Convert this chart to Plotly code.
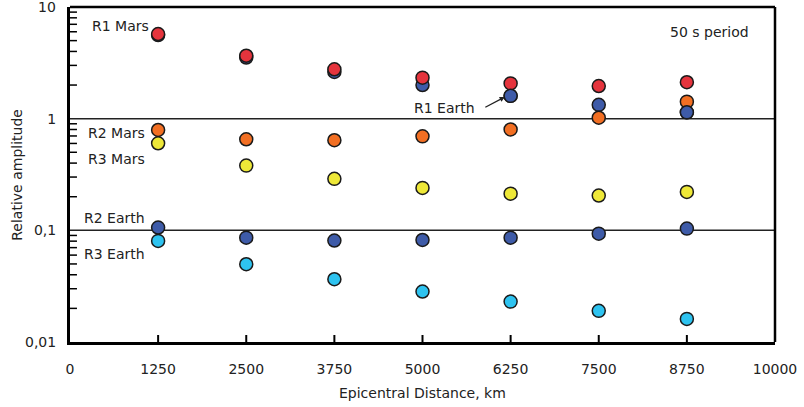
import plotly.graph_objects as go

# Epicentral distance (km)
distance = [1250, 2500, 3750, 5000, 6250, 7500, 8750]

# Relative amplitudes at 50 s period
r1_mars = [5.73, 3.66, 2.77, 2.33, 2.07, 1.96, 2.12]
r1_earth = [5.60, 3.53, 2.62, 2.00, 1.60, 1.33, 1.14]
r2_mars = [0.792, 0.654, 0.641, 0.695, 0.80, 1.02, 1.42]
r3_mars = [0.602, 0.380, 0.289, 0.240, 0.213, 0.205, 0.221]
r2_earth = [0.106, 0.086, 0.081, 0.082, 0.086, 0.0934, 0.1036]
r3_earth = [0.0804, 0.0497, 0.0365, 0.0283, 0.023, 0.019, 0.0161]

x_ticks = [0, 1250, 2500, 3750, 5000, 6250, 7500, 8750, 10000]
y_decades = [0.01, 0.1, 1, 10]
y_decade_text = ["0,01", "0,1", "1", "10"]
y_gridlines = [0.1, 1]

FONT = "DejaVu Sans"
TEXT = "#222"
RED, BLUE, ORANGE, YELLOW, CYAN = "#E5343D", "#3E5BA8", "#F26F23", "#EEE838", "#2EC3F0"

W, H = 804, 407
M = dict(l=70, r=26, t=7, b=65)
PW = W - M["l"] - M["r"]
PH = H - M["t"] - M["b"]
TICK_PX = 7

# minor log ticks at every digit of each decade
y_minor = [d * m for d in y_decades[:-1] for m in range(2, 10)]

# drawing order: later traces sit on top
series = [
    ("R1 Earth", distance, r1_earth, BLUE),
    ("R2 Mars", distance, r2_mars, ORANGE),
    ("R1 Mars", distance, r1_mars, RED),
    ("R1 Earth", [distance[i] for i in (4, 6)], [r1_earth[i] for i in (4, 6)], BLUE),
    ("R3 Mars", distance, r3_mars, YELLOW),
    ("R2 Earth", distance, r2_earth, BLUE),
    ("R3 Earth", distance, r3_earth, CYAN),
]

fig = go.Figure()
for name, xs, vals, color in series:
    fig.add_trace(go.Scatter(
        x=xs, y=vals, mode="markers", name=name,
        marker=dict(size=13, color=color, line=dict(color="#1a1a1a", width=1.5)),
        showlegend=False,
    ))

fig.update_layout(
    width=W, height=H,
    margin=M,
    paper_bgcolor="white", plot_bgcolor="white",
    font=dict(family=FONT, size=14, color=TEXT),
    xaxis=dict(
        range=[0, 10000], tickvals=x_ticks, ticktext=[str(v) for v in x_ticks],
        ticks="outside", ticklen=12, tickcolor="rgba(0,0,0,0)",
        showline=True, linewidth=3, linecolor="black",
        showgrid=False, zeroline=False,
        tickfont=dict(family=FONT, size=14),
    ),
    yaxis=dict(
        type="log", range=[-2, 1], tickvals=y_decades[:-1], ticktext=y_decade_text[:-1],
        ticks="outside", ticklen=8, tickcolor="rgba(0,0,0,0)",
        showline=True, linewidth=3, linecolor="black",
        showgrid=False, zeroline=False,
        tickfont=dict(family=FONT, size=14),
    ),
)

# top decade label sits on the upper edge of the plot
fig.add_annotation(text=y_decade_text[-1], xref="paper", yref="y", x=-12 / PW, y=1,
                   xanchor="right", yanchor="middle", showarrow=False,
                   font=dict(family=FONT, size=14, color=TEXT))

# horizontal reference lines at 0.1 and 1
for g in y_gridlines:
    fig.add_shape(type="line", xref="paper", yref="y", x0=0, x1=1, y0=g, y1=g,
                  line=dict(color=TEXT, width=1.5), layer="below")

# inward tick marks
for xv in x_ticks[1:-1]:
    fig.add_shape(type="line", xref="x", yref="paper", x0=xv, x1=xv,
                  y0=0, y1=TICK_PX / PH, line=dict(color="black", width=2))
for yv in y_minor:
    fig.add_shape(type="line", xref="paper", yref="y", x0=0, x1=TICK_PX / PW,
                  y0=yv, y1=yv, line=dict(color="black", width=1.5))

# thinner frame on top and right
fig.add_shape(type="line", xref="paper", yref="paper", x0=0, x1=1, y0=1, y1=1,
              line=dict(color="black", width=2.5))
fig.add_shape(type="line", xref="paper", yref="paper", x0=1, x1=1, y0=0, y1=1,
              line=dict(color="black", width=2.5))

labels = [
    ("R1 Mars", 0.1143, 0.943),
    ("R2 Mars", 0.1087, 0.625),
    ("R3 Mars", 0.1087, 0.545),
    ("R2 Earth", 0.1087, 0.369),
    ("R3 Earth", 0.1087, 0.263),
    ("R1 Earth", 0.5775, 0.700),
    ("50 s period", 0.9654, 0.926),
]
for text, px, py in labels:
    fig.add_annotation(text=text, xref="paper", yref="paper", x=px, y=py,
                       xanchor="right", yanchor="middle", showarrow=False,
                       font=dict(family=FONT, size=14, color=TEXT))

# arrow pointing at R1 Earth at 6250 km
fig.add_annotation(text="", x=6168, y=0.194, xref="x", yref="y",
                   showarrow=True, arrowhead=2, arrowsize=0.8, arrowwidth=1.3,
                   arrowcolor=TEXT, ax=-21, ay=11, standoff=0)

# axis titles
fig.add_annotation(text="Epicentral Distance, km", xref="paper", yref="paper",
                   x=0.5, y=(342 - 393) / PH, xanchor="center", yanchor="middle",
                   showarrow=False, font=dict(family=FONT, size=14, color=TEXT))
fig.add_annotation(text="Relative amplitude", xref="paper", yref="paper",
                   x=(16 - 70) / PW, y=0.5, xanchor="center", yanchor="middle",
                   textangle=-90, showarrow=False,
                   font=dict(family=FONT, size=14, color=TEXT))

fig.write_html("out.html")
